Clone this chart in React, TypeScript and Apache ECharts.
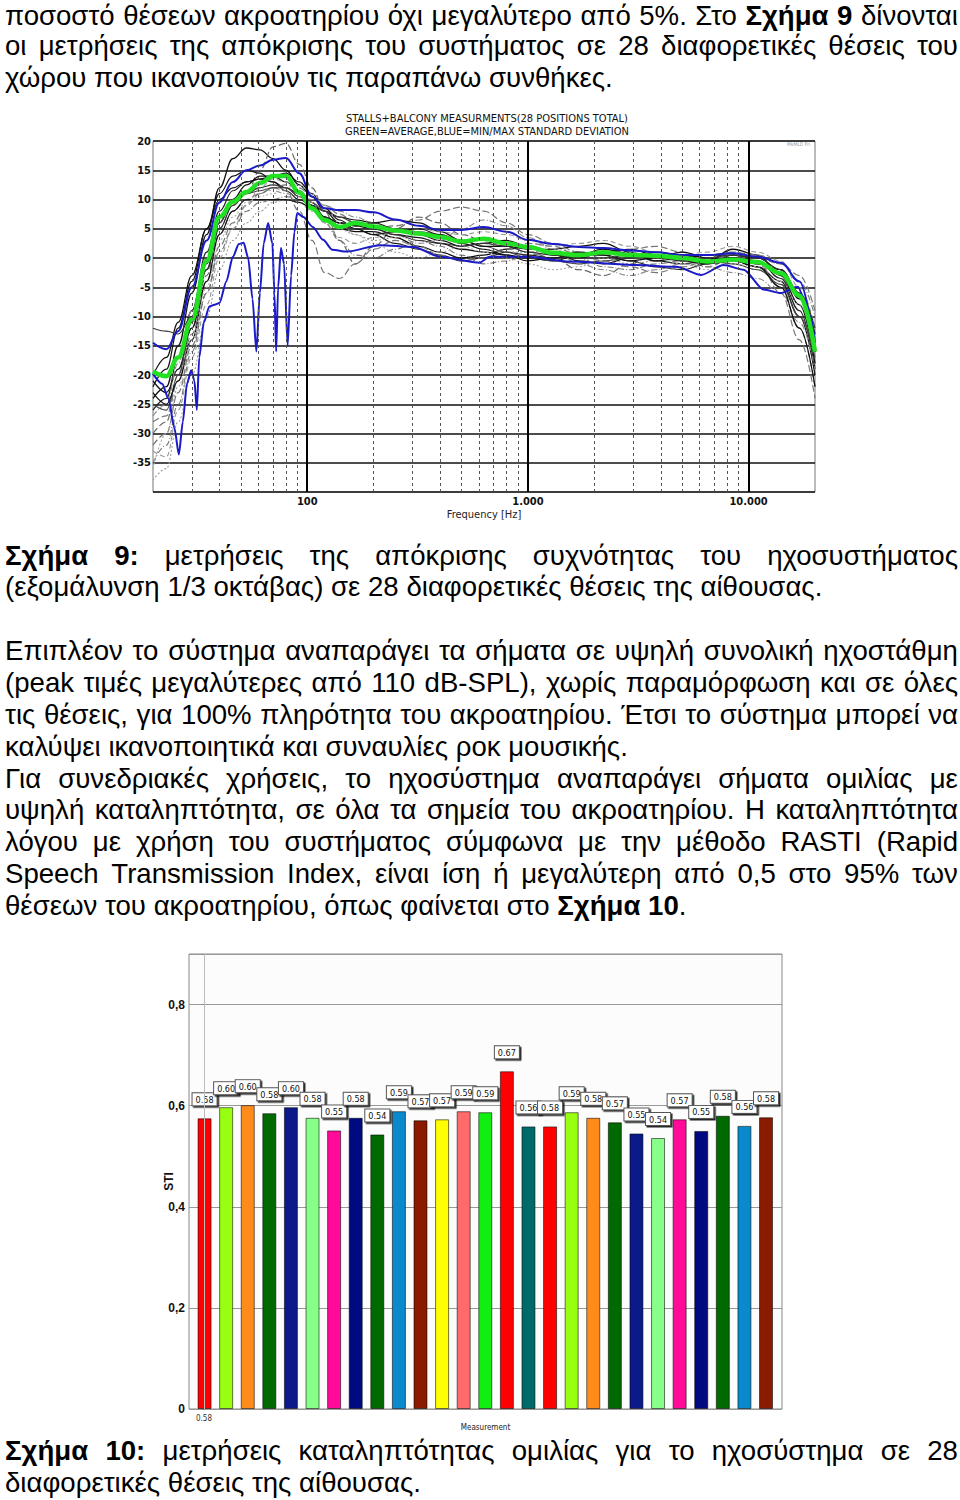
import React, { useEffect, useRef } from 'react';
import * as echarts from 'echarts';

// ---------- Frequency response chart data ----------
const FREQ = [20, 23, 26, 30, 35, 40, 46, 53, 61, 70, 80, 92, 105, 120, 140, 165, 200, 250, 320, 400, 500, 630, 800, 1000, 1300, 1700, 2200, 2900, 3800, 5000, 6500, 8500, 11000, 14000, 17000, 20000];

const AVERAGE = [-19.4, -20.2, -17, -10.5, -0.5, 7.0, 9.6, 11.3, 12.8, 14.0, 14.0, 11.2, 8.5, 6.5, 5.3, 6.0, 5.4, 4.7, 4.2, 3.6, 2.8, 3.3, 2.5, 1.9, 0.9, 0.5, 1.0, 0.5, 0.4, 0.0, -0.6, -0.3, -0.7, -2.6, -6.4, -16];
const STD_UPPER = [-14.5, -15.6, -12.5, -5, 3, 9.5, 13.0, 15.0, 15.8, 16.8, 17.1, 14.5, 10.5, 8.5, 8.2, 8.2, 7.8, 6.6, 5.5, 4.8, 4.8, 5.3, 4.5, 3.1, 2.4, 1.9, 1.7, 1.3, 1.0, 0.5, 0.5, 0.8, 0.2, -0.8, -4.0, -16];
const STD_LOWER: [number, number][] = [[20, -19.8], [22, -21.5], [23.5, -24], [25, -29], [26.2, -33.6], [27.3, -28], [28.5, -21.5], [29.8, -19.2], [30.8, -21], [31.6, -26], [32.4, -17], [34, -11], [36, -8.3], [38, -8], [40, -7.7], [43, -4], [46, 0.2], [49, 2.4], [51.5, 2.6], [54, 0], [56.5, -7], [58.8, -16], [61, -6], [63.5, 2.5], [66.5, 6.0], [69.5, 2.5], [71, -6], [72.3, -16], [73.8, -5], [76, 1.7], [78.5, -1], [81.5, -15], [84.5, -3], [87.5, 4.5], [90, 7.7], [96, 7.0], [106, 5.3], [118, 3.1], [130, 1.4], [151, 1.1], [214, 2.2], [303, 1.9], [400, 0.2], [604, -0.8], [670, 0.2], [1000, 0.2], [1550, -0.6], [3100, -1.2], [4700, -1.5], [6100, -2.9], [7700, -1.2], [9500, -2.0], [11700, -5.4], [14000, -6], [16700, -4.9], [19100, -10], [20000, -14.5]];

const POS_01 = [-24, -22, -15, -6, 4, 12, 17, 18.8, 18.5, 17, 15, 12.5, 10.5, 8, 6, 5.5, 5, 4, 3.5, 2.5, 1.5, 1, 0.5, 0, -0.5, 0.5, 1.5, 0.8, -0.5, -1, -0.5, 1.5, 0.5, -3, -8, -18];
const POS_02 = [-30, -28, -20, -12, -3, 5, 9, 11, 15, 19, 19.6, 16, 12, 8, 3, -1, 2, 5, 7, 6, 4, 3, 2, 1, 0, -2, -3, -1, 1, 0, -1.5, 0, -1, -5, -12, -22];
const POS_03 = [-21, -23, -19, -12, -2, 6, 10, 12.5, 14, 14, 13, 11.5, 9.5, 7, 5, 4.5, 4.5, 3.5, 2, 1, 0, 0.5, 1.5, 2, 1, -0.5, -1, 0, 1, 0.5, -0.5, 0, -1, -2, -6, -13];
const POS_04 = [-35, -32, -25, -16, -6, 1, 5, 8, 9.5, 10, 10.5, 10, 9, 6, 3, 0.5, 0, 1.5, 3, 2, 0.5, -1, -0.5, 0.5, 1, 0, -1.5, -2, -1, -0.5, 0.5, 1, 0, -1, -4, -10];
const POS_05 = [-26, -24, -17, -9, 1, 8, 11.5, 13, 13.5, 13, 12, 10.5, 9, 7, 6, 5, 4, 2.5, 1.5, 0.5, -0.5, 0, 1, 0.5, 0, 0.5, 0.5, -0.5, -1.5, -2, -1, 0.5, -0.5, -3.5, -9, -19];
const POS_06 = [-28, -27, -21, -13, -4, 4, 8, 10, 11, 12, 12.5, 12, 10.5, 9, 7.5, 6, 5, 5.5, 6.5, 8, 8.7, 8, 6, 4, 2.5, 1, 0.5, 1.5, 2, 1, 0, 1, 0.5, -1, -3, -9];
const POS_07 = [-22, -19, -12, -4, 5, 11, 14, 15, 14.5, 13, 11.5, 10, 9, 8, 7, 6.5, 6, 5, 4, 3, 2, 2.5, 3, 2, 0.5, 0, 1, 1.5, 0.5, -0.5, -1, -0.5, -1.5, -4, -10, -20];
const POS_08 = [-38, -36, -28, -20, -10, -2, 3, 6, 8, 9.5, 10, 9.5, 8, 6.5, 5, 4, 3, 3.5, 4, 3.5, 2.5, 1.5, 1, 1, 1.5, 1, 0, -1, -0.5, 0.5, 0, -1, -2, -4, -8, -14];
const POS_09 = [-32, -30, -23, -15, -6, 2, 6, 9, 11, 12, 11.5, 8, 3, -2.5, -3.5, -1, 1.5, 3, 2, 0.5, -0.5, 0, 1.5, 2.5, 2, 0.5, -0.5, -1.5, -2.5, -1.5, -0.5, 0.5, -0.5, -6, -14, -24];
const POS_10 = [-25, -26, -20, -11, -1, 6, 9.5, 11, 11.5, 12, 12, 11, 9.5, 8, 7, 6, 5.5, 5, 4.5, 4, 3, 2, 1, 0, -0.5, -1, -0.5, 0, 0.5, 0, -0.5, -1, -2, -4.5, -10, -17];
const POS_11 = [-27, -25, -18, -9, 0, 7, 10, 11.5, 12, 11.5, 11, 10.5, 10, 9, 8, 7, 6, 4, 2.5, 3, 5, 6.5, 5.5, 3.5, 1.5, -1, -2, -3, -2, -1, -1.5, -2.5, -3.5, -6, -11, -19];
const POS_12 = [-23, -25, -21, -14, -4, 4, 8, 10, 10, 10, 10, 9.5, 8.5, 7, 6, 5.5, 6, 6.5, 6, 4.5, 3, 2, 2, 1.5, 1.5, 2, 2.5, 1, -0.5, 0, 0.5, 0.5, 0, -2, -7, -16];
const POS_13 = [-33, -34, -26, -17, -8, 0, 5, 9, 12, 13.5, 13, 11.5, 9.5, 6, 3.5, 2.5, 3.5, 4.5, 5, 4.5, 4, 4.5, 4, 3, 2, 2.5, 3, 2, 1, 0.5, 1, 2, 1, -0.5, -5, -12];
const POS_14 = [-20, -17, -11, -3, 5, 10, 12, 13, 13.5, 14, 14.5, 13, 11, 8.5, 6.5, 5, 4, 4.5, 5, 4, 2.5, 1.5, 0.5, -0.5, 0, 1, 0.5, -0.5, 0, 1, 0, -0.5, -1.5, -5, -12, -22];
const POS_15 = [-36, -30, -22, -14, -5, 3, 7, 9.5, 10.5, 11, 12, 12.5, 11, 9, 6, 4, 2.5, 1, 0, 1, 2, 1, 0, -1, -2, -1.5, 0, 1, 0, -1, -2, -1, -1.5, -2.5, -6, -15];
const POS_16 = [-12, -12.5, -13, -10, -2, 5, 9, 11, 12, 12.5, 12, 11, 9, 7, 5.5, 5, 5, 4, 3, 2.5, 2, 2.5, 2, 1, 0.5, 0, 0, 0.5, 0, -0.5, 0, 0.5, 0, -2, -6, -12];

const MINOR_FREQ = [30, 40, 50, 60, 70, 80, 90, 200, 300, 400, 500, 600, 700, 800, 900, 2000, 3000, 4000, 5000, 6000, 7000, 8000, 9000];
const MAJOR_FREQ = [100, 1000, 10000];

// ---------- STI bar chart data ----------
const STI_VALUES = [0.575, 0.597, 0.601, 0.585, 0.597, 0.576, 0.551, 0.576, 0.543, 0.589, 0.571, 0.573, 0.589, 0.587, 0.668, 0.559, 0.559, 0.587, 0.576, 0.567, 0.545, 0.536, 0.573, 0.55, 0.58, 0.56, 0.577];
const STI_LABELS = ['0.58', '0.60', '0.60', '0.58', '0.60', '0.58', '0.55', '0.58', '0.54', '0.59', '0.57', '0.57', '0.59', '0.59', '0.67', '0.56', '0.58', '0.59', '0.58', '0.57', '0.55', '0.54', '0.57', '0.55', '0.58', '0.56', '0.58'];
const STI_COLORS = ['#ff0000', '#99ff11', '#ff8c1a', '#006a00', '#0a1a88', '#88ff88', '#ff0a99', '#000a80', '#006a00', '#0a8acc', '#8a1a00', '#ffff00', '#ff6a6a', '#11ee11', '#ff0000', '#006a6a', '#ff0000', '#99ff11', '#ff8c1a', '#006a00', '#0a1a88', '#88ff88', '#ff0a99', '#000a80', '#006a00', '#0a8acc', '#8a1a00'];
const STI_TICKS = [0, 0.2, 0.4, 0.6, 0.8];

// ---------- Page text ----------
const TEXT_LINES = [
  { y: 16, j: true, t: 'ποσοστό θέσεων ακροατηρίου όχι μεγαλύτερο από 5%. Στο **Σχήμα 9** δίνονται' },
  { y: 46, j: true, t: 'οι μετρήσεις της απόκρισης του συστήματος σε 28 διαφορετικές θέσεις του' },
  { y: 78, j: false, t: 'χώρου που ικανοποιούν τις παραπάνω συνθήκες.' },
  { y: 556, j: true, t: '**Σχήμα 9:** μετρήσεις της απόκρισης συχνότητας του ηχοσυστήματος' },
  { y: 587, j: false, t: '(εξομάλυνση 1/3 οκτάβας) σε 28 διαφορετικές θέσεις της αίθουσας.' },
  { y: 651, j: true, t: 'Επιπλέον το σύστημα αναπαράγει τα σήματα σε υψηλή συνολική ηχοστάθμη' },
  { y: 683, j: true, t: '(peak τιμές μεγαλύτερες από 110 dB-SPL), χωρίς παραμόρφωση και σε όλες' },
  { y: 715, j: true, t: 'τις θέσεις, για 100% πληρότητα του ακροατηρίου. Έτσι το σύστημα μπορεί να' },
  { y: 747, j: false, t: 'καλύψει ικανοποιητικά και συναυλίες ροκ μουσικής.' },
  { y: 779, j: true, t: 'Για συνεδριακές χρήσεις, το ηχοσύστημα αναπαράγει σήματα ομιλίας με' },
  { y: 810, j: true, t: 'υψηλή καταληπτότητα, σε όλα τα σημεία του ακροατηρίου. Η καταληπτότητα' },
  { y: 842, j: true, t: 'λόγου με χρήση του συστήματος σύμφωνα με την μέθοδο RASTI (Rapid' },
  { y: 874, j: true, t: 'Speech Transmission Index, είναι ίση ή μεγαλύτερη από 0,5 στο 95% των' },
  { y: 906, j: false, t: 'θέσεων του ακροατηρίου, όπως φαίνεται στο **Σχήμα 10**.' },
  { y: 1451, j: true, t: '**Σχήμα 10:** μετρήσεις καταληπτότητας ομιλίας για το ηχοσύστημα σε 28' },
  { y: 1483, j: false, t: 'διαφορετικές θέσεις της αίθουσας.' },
];

const NARROW = "'Liberation Sans Narrow', 'DejaVu Sans Condensed', Arial, sans-serif";
const SANS = "'Liberation Sans', Arial, sans-serif";

const GRAY_CURVES = [POS_01, POS_02, POS_03, POS_04, POS_05, POS_06, POS_07, POS_08, POS_09, POS_10, POS_11, POS_12, POS_13, POS_14, POS_15, POS_16];
const GRAY_STYLES: any[] = [
  { color: '#111', type: 'solid', width: 1.3 },
  { color: '#666', type: [7, 3], width: 1.2 },
  { color: '#111', type: 'solid', width: 1.3 },
  { color: '#777', type: [6, 2, 1, 2], width: 1.1 },
  { color: '#222', type: 'solid', width: 1.2 },
  { color: '#777', type: [7, 3], width: 1.2 },
  { color: '#111', type: 'solid', width: 1.2 },
  { color: '#999', type: [2, 2], width: 1.1 },
  { color: '#777', type: [7, 3], width: 1.2 },
  { color: '#444', type: 'solid', width: 1.1 },
  { color: '#888', type: [6, 2, 1, 2], width: 1.1 },
  { color: '#111', type: 'solid', width: 1.2 },
  { color: '#999', type: [5, 3], width: 1.1 },
  { color: '#111', type: 'solid', width: 1.2 },
  { color: '#aaa', type: [2, 2], width: 1.1 },
  { color: '#333', type: 'solid', width: 1.1 },
];

function parseWords(t: string) {
  let bold = false;
  const words: { p: string; b: boolean }[][] = [];
  for (const tok of t.split(' ').filter(Boolean)) {
    const parts = tok.split('**');
    const segs: { p: string; b: boolean }[] = [];
    parts.forEach((p, k) => {
      if (k > 0) bold = !bold;
      if (p) segs.push({ p, b: bold });
    });
    words.push(segs);
  }
  return words;
}

function TextLine({ y, j, t }: { y: number; j: boolean; t: string }) {
  const words = parseWords(t);
  const base: React.CSSProperties = {
    position: 'absolute', left: 5, width: 953, top: y - 16, height: 32, lineHeight: '32px',
    fontFamily: SANS, fontSize: 27.6, color: '#000', whiteSpace: 'pre',
  };
  const renderWord = (w: { p: string; b: boolean }[], i: number) => (
    <span key={i}>{w.map((s, k) => <span key={k} style={{ fontWeight: s.b ? 'bold' : 'normal' }}>{s.p}</span>)}</span>
  );
  if (j) {
    return <div style={{ ...base, display: 'flex', justifyContent: 'space-between' }}>{words.map(renderWord)}</div>;
  }
  return (
    <div style={base}>
      {words.map((w, i) => <React.Fragment key={i}>{i > 0 ? ' ' : ''}{renderWord(w, i)}</React.Fragment>)}
    </div>
  );
}

export default function App() {
  const ref = useRef<HTMLDivElement>(null);
  useEffect(() => {
    if (!ref.current) return;
    const chart = echarts.init(ref.current, null, { renderer: 'svg' });
    const pairs = (vals: number[]) => FREQ.map((f, i) => [f, vals[i]]);
    const fmtThousands = (v: number) => {
      const r = Math.round(v);
      if (r === 100) return '100';
      if (r === 1000) return '1.000';
      if (r === 10000) return '10.000';
      return '';
    };
    const option: any = {
      animation: false,
      backgroundColor: '#fff',
      title: {
        text: 'STALLS+BALCONY MEASURMENTS(28 POSITIONS TOTAL)\nGREEN=AVERAGE,BLUE=MIN/MAX STANDARD DEVIATION',
        left: 482, top: 107, textAlign: 'center',
        textStyle: { fontSize: 11, fontWeight: 'normal', color: '#111', fontFamily: NARROW, lineHeight: 13 },
      },
      graphic: [
        { type: 'text', left: 787, top: 141, style: { text: 'MkMLD Fri', fontSize: 5, fill: '#999', fontFamily: NARROW } },
        { type: 'text', x: 204, y: 1418, style: { text: '0.58', fontSize: 8, fill: '#333', fontFamily: NARROW, align: 'center', verticalAlign: 'middle' } },
      ],
      grid: [
        { left: 153, top: 141, width: 662, height: 351, show: true, borderColor: '#777', borderWidth: 1, backgroundColor: '#fff' },
        { left: 189, top: 954, width: 593, height: 455, show: true, borderColor: '#888', borderWidth: 1, backgroundColor: '#fcfcfc' },
      ],
      xAxis: [
        {
          type: 'log', gridIndex: 0, min: 20, max: 20000, logBase: 10,
          axisLine: { show: false }, axisTick: { show: false }, splitLine: { show: false },
          axisLabel: { formatter: fmtThousands, fontWeight: 'bold', fontSize: 11, color: '#111', margin: 4, fontFamily: NARROW, showMinLabel: false, showMaxLabel: false },
          name: 'Frequency [Hz]', nameLocation: 'middle', nameGap: 17, nameMoveOverlap: false,
          nameTextStyle: { fontSize: 11, color: '#222', fontFamily: NARROW },
        },
        {
          type: 'value', gridIndex: 1, min: -0.72, max: 26.74,
          axisLine: { show: false }, axisTick: { show: false }, splitLine: { show: false }, axisLabel: { show: false },
          name: 'Measurement', nameLocation: 'middle', nameGap: 14, nameMoveOverlap: false,
          nameTextStyle: { fontSize: 8, color: '#222', fontFamily: NARROW },
        },
      ],
      yAxis: [
        {
          type: 'value', gridIndex: 0, min: -40, max: 20, interval: 5,
          axisLine: { show: false }, axisTick: { show: false },
          splitLine: { show: true, lineStyle: { color: '#111', width: 1.5 } },
          axisLabel: { formatter: (v: number) => (v === -40 ? '' : String(v)), fontWeight: 'bold', fontSize: 11, color: '#111', margin: 2, fontFamily: NARROW },
        },
        {
          type: 'value', gridIndex: 1, min: 0, max: 0.9, interval: 0.2,
          axisLine: { show: false },
          axisTick: { show: true, length: 3, lineStyle: { color: '#888' } },
          splitLine: { show: true, lineStyle: { color: '#999', width: 1 } },
          axisLabel: {
            formatter: (v: number) => {
              const hit = STI_TICKS.find((t) => Math.abs(t - v) < 1e-6);
              if (hit === undefined) return '';
              return hit === 0 ? '0' : hit.toFixed(1).replace('.', ',');
            },
            fontWeight: 'bold', fontSize: 12, color: '#111', margin: 4, fontFamily: SANS,
          },
          name: 'STI', nameLocation: 'middle', nameRotate: 90, nameGap: 14, nameMoveOverlap: false,
          nameTextStyle: { fontSize: 12, fontWeight: 'bold', color: '#111', fontFamily: SANS },
        },
      ],
      series: [
        {
          type: 'line', xAxisIndex: 0, yAxisIndex: 0, data: [], silent: true,
          markLine: {
            silent: true, symbol: ['none', 'none'], label: { show: false }, animation: false,
            data: [
              ...MINOR_FREQ.map((f) => ({ xAxis: f, lineStyle: { color: '#555', type: [3, 3], width: 1 } })),
              ...MAJOR_FREQ.map((f) => ({ xAxis: f, lineStyle: { color: '#000', type: 'solid', width: 2 } })),
            ],
          },
        },
        ...GRAY_CURVES.map((c, i) => ({
          type: 'line', xAxisIndex: 0, yAxisIndex: 0, data: pairs(c), showSymbol: false, smooth: 0.4, smoothMonotone: 'x', silent: true,
          lineStyle: GRAY_STYLES[i],
        })),
        {
          type: 'line', xAxisIndex: 0, yAxisIndex: 0, data: pairs(STD_UPPER), showSymbol: false, smooth: 0.4, smoothMonotone: 'x', silent: true,
          lineStyle: { color: '#1a1ac8', width: 2 },
        },
        {
          type: 'line', xAxisIndex: 0, yAxisIndex: 0, data: STD_LOWER, showSymbol: false, smooth: 0.25, smoothMonotone: 'x', silent: true,
          lineStyle: { color: '#1a1ac8', width: 2 },
        },
        {
          type: 'line', xAxisIndex: 0, yAxisIndex: 0, data: pairs(AVERAGE), showSymbol: false, smooth: 0.4, smoothMonotone: 'x', silent: true,
          lineStyle: { color: '#22e022', width: 4.5 },
        },
        {
          type: 'line', xAxisIndex: 1, yAxisIndex: 1, data: [], silent: true,
          markLine: {
            silent: true, symbol: ['none', 'none'], label: { show: false },
            data: [{ xAxis: 0, lineStyle: { color: '#bbb', type: 'solid', width: 1 } }],
          },
        },
        {
          type: 'bar', xAxisIndex: 1, yAxisIndex: 1, barWidth: 14, silent: true,
          data: STI_VALUES.map((v, i) => ({ value: [i, v], itemStyle: { color: STI_COLORS[i] } })),
          itemStyle: { borderColor: 'rgba(0,0,0,0.55)', borderWidth: 1 },
          label: {
            show: true, position: 'top', distance: 13,
            formatter: (p: any) => STI_LABELS[p.dataIndex],
            fontSize: 9, fontFamily: NARROW, color: '#111',
            backgroundColor: '#fff', borderColor: '#555', borderWidth: 1, padding: [2, 3, 1, 3],
            shadowColor: 'rgba(0,0,0,0.85)', shadowOffsetX: 1.5, shadowOffsetY: 1.5, shadowBlur: 0,
          },
        },
      ],
    };
    chart.setOption(option);
    return () => chart.dispose();
  }, []);

  return (
    <div style={{ position: 'absolute', left: 0, top: 0, width: 960, height: 1500, overflow: 'hidden', background: '#fff' }}>
      <div ref={ref} style={{ position: 'absolute', left: 0, top: 0, width: 960, height: 1500 }} />
      {TEXT_LINES.map((l, i) => <TextLine key={i} {...l} />)}
    </div>
  );
}
